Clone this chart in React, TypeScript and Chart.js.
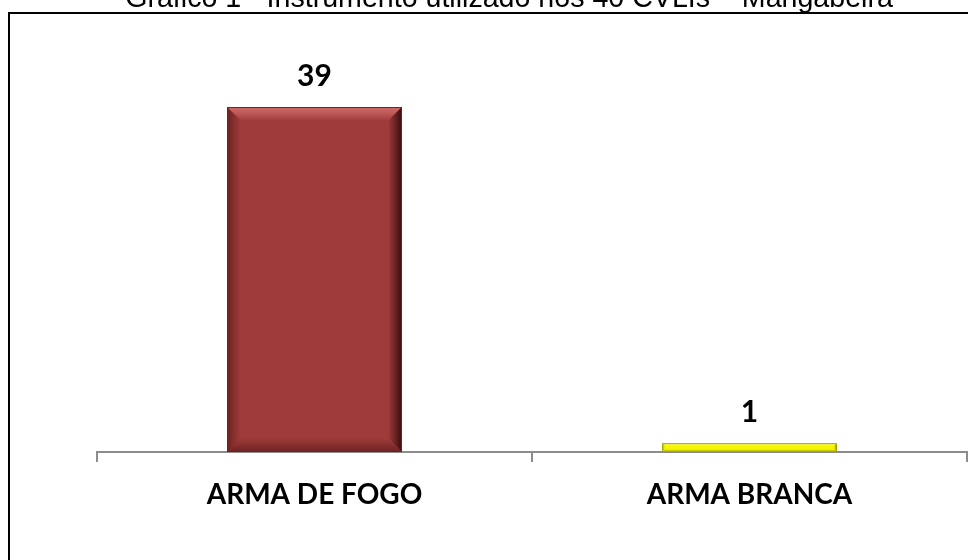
import React, { useEffect, useRef } from "react";
import { Chart, registerables } from "chart.js";

Chart.register(...registerables);

const chartTitle = "Gráfico 1 - Instrumento utilizado nos 40 CVLIs – Mangabeira";
const categories = ["ARMA DE FOGO", "ARMA BRANCA"];
const values = [39, 1];
const barColors = ["#9F3C3B", "#F6F600"];
const lightColors = ["#D46E6C", "#FFFF90"];
const darkColors = ["#3A0C0C", "#6E6E00"];
const edgeColors = ["#6E2222", "#A6A600"];

const framePlugin = {
  id: "frame",
  beforeDraw(chart: any) {
    const ctx = chart.ctx;
    ctx.save();
    ctx.fillStyle = "#ffffff";
    ctx.fillRect(0, 0, chart.width, chart.height);
    ctx.strokeStyle = "#000000";
    ctx.lineWidth = 2;
    ctx.strokeRect(9, 13, chart.width + 20, chart.height + 20);
    ctx.fillStyle = "#000000";
    ctx.font = "28.6px 'Liberation Sans', Arial, sans-serif";
    ctx.textAlign = "center";
    ctx.textBaseline = "alphabetic";
    ctx.fillText(chartTitle, 509, 7);
    ctx.restore();
  },
};

const bevelPlugin = {
  id: "bevel",
  afterDatasetsDraw(chart: any) {
    const ctx = chart.ctx;
    const meta = chart.getDatasetMeta(0);
    meta.data.forEach((el: any, i: number) => {
      const p = el.getProps(["x", "y", "base", "width"], true);
      const l = p.x - p.width / 2;
      const r = p.x + p.width / 2;
      const t = Math.min(p.y, p.base);
      const b = Math.max(p.y, p.base);
      const h = b - t;
      const bv = Math.min(14, h / 3);
      ctx.save();
      let g = ctx.createLinearGradient(0, t, 0, t + bv);
      g.addColorStop(0, lightColors[i]);
      g.addColorStop(1, barColors[i]);
      ctx.fillStyle = g;
      ctx.beginPath();
      ctx.moveTo(l, t);
      ctx.lineTo(r, t);
      ctx.lineTo(r - bv, t + bv);
      ctx.lineTo(l + bv, t + bv);
      ctx.closePath();
      ctx.fill();
      g = ctx.createLinearGradient(r - bv, 0, r, 0);
      g.addColorStop(0, barColors[i]);
      g.addColorStop(1, darkColors[i]);
      ctx.fillStyle = g;
      ctx.beginPath();
      ctx.moveTo(r, t);
      ctx.lineTo(r, b);
      ctx.lineTo(r - bv, b - bv);
      ctx.lineTo(r - bv, t + bv);
      ctx.closePath();
      ctx.fill();
      g = ctx.createLinearGradient(l, 0, l + bv, 0);
      g.addColorStop(0, edgeColors[i]);
      g.addColorStop(1, barColors[i]);
      ctx.fillStyle = g;
      ctx.beginPath();
      ctx.moveTo(l, t);
      ctx.lineTo(l + bv, t + bv);
      ctx.lineTo(l + bv, b - bv);
      ctx.lineTo(l, b);
      ctx.closePath();
      ctx.fill();
      g = ctx.createLinearGradient(0, b - bv, 0, b);
      g.addColorStop(0, barColors[i]);
      g.addColorStop(1, edgeColors[i]);
      ctx.fillStyle = g;
      ctx.beginPath();
      ctx.moveTo(l, b);
      ctx.lineTo(l + bv, b - bv);
      ctx.lineTo(r - bv, b - bv);
      ctx.lineTo(r, b);
      ctx.closePath();
      ctx.fill();
      ctx.strokeStyle = edgeColors[i];
      ctx.lineWidth = 1;
      ctx.strokeRect(l + 0.5, t + 0.5, p.width - 1, h - 1);
      ctx.fillStyle = "#000000";
      ctx.font = "bold 30px Lato, 'Open Sans', sans-serif";
      ctx.textAlign = "center";
      ctx.textBaseline = "alphabetic";
      ctx.fillText(String(values[i]), p.x, t - 21);
      ctx.restore();
    });
  },
};

export default function App() {
  const ref = useRef<HTMLCanvasElement>(null);
  useEffect(() => {
    if (!ref.current) return;
    const chart = new Chart(ref.current, {
      type: "bar",
      data: {
        labels: categories,
        datasets: [
          {
            data: values,
            backgroundColor: barColors,
            borderWidth: 0,
            barPercentage: 1,
            categoryPercentage: 0.402,
          },
        ],
      },
      options: {
        animation: false,
        responsive: false,
        maintainAspectRatio: false,
        layout: { padding: { top: 54, left: 97, right: 1, bottom: 0 } },
        plugins: {
          legend: { display: false },
          title: { display: false },
          tooltip: { enabled: false },
        },
        scales: {
          x: {
            offset: true,
            grid: {
              display: true,
              drawOnChartArea: false,
              drawTicks: true,
              tickLength: 10,
              color: "#8C8C8C",
              lineWidth: 2,
              offset: true,
            },
            border: { display: true, color: "#8C8C8C", width: 2 },
            ticks: {
              color: "#000000",
              padding: 16,
              font: { family: "Lato, 'Open Sans', sans-serif", size: 28, weight: "bold" },
            },
            afterFit: (scale: any) => {
              scale.height = 108;
            },
          },
          y: {
            display: false,
            min: 0,
            max: 45,
          },
        },
      },
      plugins: [framePlugin, bevelPlugin],
    });
    return () => chart.destroy();
  }, []);
  return (
    <div style={{ position: "fixed", left: 0, top: 0, width: 968, height: 560, overflow: "hidden", background: "#fff" }}>
      <canvas ref={ref} width={968} height={560} style={{ display: "block", width: 968, height: 560 }} />
    </div>
  );
}
